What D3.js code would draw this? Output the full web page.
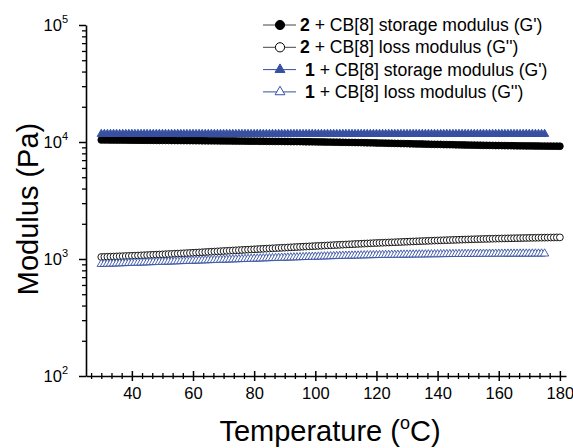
<!DOCTYPE html>
<html>
<head>
<meta charset="utf-8">
<script src="https://cdn.jsdelivr.net/npm/d3@7"></script>
<style>
  body { margin: 0; background: #fff; }
  text { font-family: "Liberation Sans", Arial, sans-serif; fill: #000; }
</style>
</head>
<body>
<div class="chart"></div>
<script>
// temperatures (°C) sampled by the rheometer
var temps2 = [30,31,32,33,34,35,36,37,38,39,40,41,42,43,44,45,46,47,48,49,
  50,51,52,53,54,55,56,57,58,59,60,61,62,63,64,65,66,67,68,69,
  70,71,72,73,74,75,76,77,78,79,80,81,82,83,84,85,86,87,88,89,
  90,91,92,93,94,95,96,97,98,99,100,101,102,103,104,105,106,107,108,109,
  110,111,112,113,114,115,116,117,118,119,120,121,122,123,124,125,126,127,128,129,
  130,131,132,133,134,135,136,137,138,139,140,141,142,143,144,145,146,147,148,149,
  150,151,152,153,154,155,156,157,158,159,160,161,162,163,164,165,166,167,168,169,
  170,171,172,173,174,175,176,177,178,179,180];
var temps1 = [30,31,32,33,34,35,36,37,38,39,40,41,42,43,44,45,46,47,48,49,
  50,51,52,53,54,55,56,57,58,59,60,61,62,63,64,65,66,67,68,69,
  70,71,72,73,74,75,76,77,78,79,80,81,82,83,84,85,86,87,88,89,
  90,91,92,93,94,95,96,97,98,99,100,101,102,103,104,105,106,107,108,109,
  110,111,112,113,114,115,116,117,118,119,120,121,122,123,124,125,126,127,128,129,
  130,131,132,133,134,135,136,137,138,139,140,141,142,143,144,145,146,147,148,149,
  150,151,152,153,154,155,156,157,158,159,160,161,162,163,164,165,166,167,168,169,
  170,171,172,173,174,175];

// 2 + CB[8] storage modulus G' (Pa)
var storage2 = [10420,10410,10410,10400,10400,10390,10390,10380,10380,10370,
  10370,10360,10360,10350,10350,10340,10340,10330,10330,10320,
  10320,10310,10310,10300,10300,10290,10290,10280,10280,10270,
  10270,10260,10260,10250,10250,10240,10240,10230,10230,10220,
  10220,10210,10210,10200,10200,10190,10190,10180,10170,10170,
  10160,10160,10150,10150,10140,10130,10130,10120,10120,10110,
  10100,10100,10090,10080,10080,10070,10060,10050,10050,10040,
  10030,10020,10010,10000,9990,9980,9970,9960,9950,9940,
  9930,9920,9910,9900,9890,9880,9860,9850,9840,9830,
  9810,9800,9790,9770,9760,9750,9730,9720,9700,9690,
  9680,9660,9650,9630,9620,9610,9590,9580,9560,9550,
  9540,9530,9510,9500,9490,9480,9460,9450,9440,9430,
  9420,9410,9400,9390,9380,9370,9360,9350,9340,9330,
  9330,9320,9310,9300,9300,9290,9280,9270,9270,9260,
  9260,9250,9240,9240,9230,9230,9220,9220,9210,9210,9200];
// 2 + CB[8] loss modulus G'' (Pa)
var loss2 = [1040,1042,1045,1047,1050,1052,1055,1057,1060,1062,
  1065,1068,1071,1074,1077,1080,1083,1086,1089,1092,
  1095,1098,1102,1105,1109,1112,1116,1119,1123,1126,
  1130,1134,1138,1142,1146,1150,1154,1158,1162,1166,
  1170,1174,1178,1182,1186,1190,1194,1198,1202,1206,
  1210,1214,1218,1222,1226,1230,1234,1238,1242,1246,
  1250,1254,1258,1262,1266,1270,1274,1278,1282,1286,
  1290,1294,1298,1302,1306,1310,1314,1318,1322,1326,
  1330,1334,1338,1342,1346,1350,1354,1358,1362,1366,
  1370,1374,1377,1381,1384,1388,1391,1395,1398,1402,
  1405,1409,1412,1416,1419,1423,1426,1430,1433,1437,
  1440,1443,1446,1449,1452,1455,1458,1461,1464,1467,
  1470,1473,1475,1478,1480,1483,1485,1488,1490,1493,
  1495,1497,1499,1501,1503,1505,1507,1509,1511,1513,
  1515,1517,1518,1520,1521,1523,1524,1526,1527,1529,1530];
// 1 + CB[8] storage modulus G' (Pa)
var storage1 = [11680,11700,11690,11700,11710,11700,11690,11700,11700,11710,
  11700,11690,11700,11700,11710,11700,11700,11690,11700,11710,
  11700,11700,11690,11700,11700,11710,11700,11690,11700,11700,
  11710,11700,11700,11690,11700,11700,11710,11700,11690,11700,
  11700,11710,11700,11700,11690,11700,11700,11710,11700,11690,
  11700,11700,11710,11700,11700,11690,11700,11700,11710,11700,
  11690,11700,11700,11710,11700,11700,11690,11700,11700,11710,
  11700,11690,11700,11700,11710,11700,11700,11690,11700,11700,
  11710,11700,11690,11700,11700,11710,11700,11700,11690,11700,
  11700,11710,11700,11690,11700,11700,11710,11700,11700,11690,
  11700,11700,11710,11700,11690,11700,11700,11710,11700,11700,
  11690,11700,11700,11710,11700,11690,11700,11700,11710,11700,
  11700,11690,11700,11700,11710,11700,11690,11700,11700,11710,
  11700,11700,11690,11700,11700,11710,11700,11690,11700,11700,
  11710,11700,11700,11690,11700,11700];
// 1 + CB[8] loss modulus G'' (Pa)
var loss1 = [905,907,909,911,913,915,917,919,921,923,
  925,927,929,931,933,935,937,939,941,943,
  945,947,949,951,953,955,957,959,961,963,
  965,967,969,971,973,975,977,979,981,983,
  985,987,989,991,993,995,997,999,1001,1003,
  1005,1007,1009,1011,1013,1015,1017,1019,1021,1023,
  1025,1027,1029,1031,1033,1035,1037,1039,1041,1043,
  1045,1047,1049,1051,1053,1055,1057,1059,1061,1063,
  1064,1066,1067,1069,1070,1072,1073,1075,1076,1078,
  1079,1080,1081,1082,1083,1084,1085,1086,1087,1088,
  1089,1090,1091,1092,1093,1093,1094,1095,1096,1097,
  1097,1098,1099,1100,1100,1101,1102,1102,1103,1104,
  1104,1105,1105,1106,1106,1107,1107,1108,1108,1108,
  1109,1109,1109,1110,1110,1110,1110,1111,1111,1111,
  1111,1112,1112,1112,1112,1112];

var xTicks = [40, 60, 80, 100, 120, 140, 160, 180];
var yTicks = [100, 1000, 10000, 100000];
var yTickExp = ["2", "3", "4", "5"];

var blue = "#3650a2";

var series = [
  { label: "storage modulus (G')", num: "2", temps: temps2, values: storage2, shape: "circle", fill: "#000", stroke: "#000", line: "#444" },
  { label: "loss modulus (G'')", num: "2", temps: temps2, values: loss2, shape: "circle", fill: "#fff", stroke: "#000", line: "#444" },
  { label: "storage modulus (G')", num: "1", temps: temps1, values: storage1, shape: "triangle", fill: blue, stroke: blue, line: blue },
  { label: "loss modulus (G'')", num: "1", temps: temps1, values: loss1, shape: "triangle", fill: "#fff", stroke: blue, line: blue }
];

var svgWidth = 573;
var svgHeight = 448;
var margin = { top: 25, right: 7, bottom: 72, left: 86 };
var width = svgWidth - margin.left - margin.right;
var height = svgHeight - margin.top - margin.bottom;

var svg = d3.select(".chart")
  .append("svg")
  .attr("width", svgWidth)
  .attr("height", svgHeight);

var chart = svg.append("g")
  .attr("transform", "translate(" + margin.left + "," + margin.top + ")");

var xScale = d3.scaleLinear().domain([25, 182]).range([0, width]);
var yScale = d3.scaleLog().domain([100, 100000]).range([height, 0]);

// marker symbols
var circleSym = d3.symbol().type(d3.symbolCircle).size(Math.PI * 3.4 * 3.4);
var triSym = d3.symbol().type(d3.symbolTriangle).size(30);
var circleLeg = d3.symbol().type(d3.symbolCircle).size(Math.PI * 4.6 * 4.6);
var triLeg = d3.symbol().type(d3.symbolTriangle).size(42);

var line = d3.line()
  .x(function(d) { return xScale(d[0]); })
  .y(function(d) { return yScale(d[1]); });

series.forEach(function(s) {
  var pts = s.temps.map(function(t, i) { return [t, s.values[i]]; });
  var g = chart.append("g");
  g.append("path")
    .attr("d", line(pts))
    .attr("fill", "none")
    .attr("stroke", s.line)
    .attr("stroke-width", 1);
  g.selectAll("path.pt")
    .data(pts)
    .enter()
    .append("path")
    .attr("class", "pt")
    .attr("transform", function(d) { return "translate(" + xScale(d[0]) + "," + yScale(d[1]) + ")"; })
    .attr("d", s.shape === "circle" ? circleSym : triSym)
    .attr("fill", s.fill)
    .attr("stroke", s.stroke)
    .attr("stroke-width", 0.9);
});

// x axis
var minorX = [];
for (var v = 40 - 20 / 6 * 4; v < 182; v += 20 / 6) {
  if (Math.abs((v - 40) / 20 - Math.round((v - 40) / 20)) > 0.01) minorX.push(v);
}

var xAxis = chart.append("g")
  .attr("transform", "translate(0," + height + ")")
  .call(d3.axisBottom(xScale).tickValues(xTicks).tickSize(5).tickSizeOuter(0).tickPadding(6));
xAxis.selectAll(".tick line").attr("y1", -5).attr("stroke-width", 1.5);
xAxis.selectAll(".tick text").style("font-size", "16.5px");
xAxis.select(".domain").attr("stroke-width", 1.6);

var xMinor = chart.append("g")
  .attr("transform", "translate(0," + height + ")")
  .call(d3.axisBottom(xScale).tickValues(minorX).tickSize(3).tickSizeOuter(0).tickFormat(""));
xMinor.selectAll(".tick line").attr("y1", -3).attr("stroke-width", 1.3);
xMinor.select(".domain").remove();

// y axis
var minorY = [];
[100, 1000, 10000].forEach(function(dec) {
  for (var k = 2; k <= 9; k++) minorY.push(dec * k);
});

var yAxis = chart.append("g")
  .call(d3.axisLeft(yScale).tickValues(yTicks).tickSize(7).tickSizeOuter(0).tickFormat(""));
yAxis.selectAll(".tick line").attr("stroke-width", 1.5);
yAxis.select(".domain").attr("stroke-width", 1.6);

var yMinor = chart.append("g")
  .call(d3.axisLeft(yScale).tickValues(minorY).tickSize(4).tickSizeOuter(0).tickFormat(""));
yMinor.selectAll(".tick line").attr("stroke-width", 1.3);
yMinor.select(".domain").remove();

// y tick labels with superscript exponents
yTicks.forEach(function(t, i) {
  var lab = chart.append("text")
    .attr("x", -18)
    .attr("y", yScale(t) + 6)
    .attr("text-anchor", "end")
    .style("font-size", "16.5px");
  lab.append("tspan").text("10");
  lab.append("tspan").attr("dy", -8).style("font-size", "11px").text(yTickExp[i]);
});

// axis titles
svg.append("text")
  .attr("transform", "translate(38,209) rotate(-90)")
  .attr("text-anchor", "middle")
  .style("font-size", "29px")
  .text("Modulus (Pa)");

var xt = svg.append("text")
  .attr("x", 330)
  .attr("y", 441)
  .attr("text-anchor", "middle")
  .style("font-size", "29px");
xt.append("tspan").text("Temperature (");
xt.append("tspan").attr("dy", -12).style("font-size", "18px").text("o");
xt.append("tspan").attr("dy", 12).text("C)");

// legend
var legend = svg.append("g").attr("transform", "translate(263,25)");
series.forEach(function(s, i) {
  var row = legend.append("g").attr("transform", "translate(0," + (i * 22.3) + ")");
  row.append("line")
    .attr("x1", 0).attr("x2", 33)
    .attr("stroke", s.line).attr("stroke-width", 1);
  row.append("path")
    .attr("transform", "translate(17,0)")
    .attr("d", s.shape === "circle" ? circleLeg : triLeg)
    .attr("fill", s.fill)
    .attr("stroke", s.stroke)
    .attr("stroke-width", 1);
  var t = row.append("text")
    .attr("x", s.num === "2" ? 37 : 42)
    .attr("y", 6)
    .style("font-size", "17.6px");
  t.append("tspan").style("font-weight", "bold").text(s.num);
  t.append("tspan").text(" + CB[8] " + s.label);
});
</script>
</body>
</html>
